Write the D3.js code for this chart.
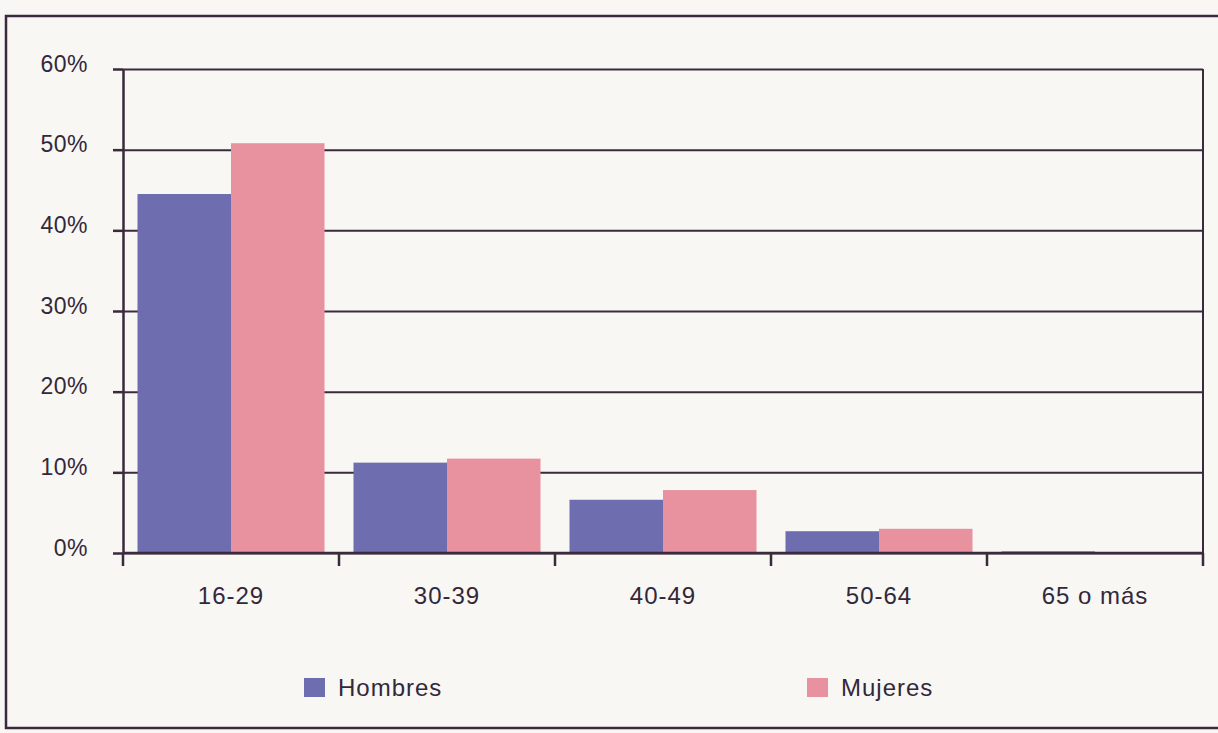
<!DOCTYPE html>
<html>
<head>
<meta charset="utf-8">
<script src="https://cdn.jsdelivr.net/npm/d3@7"></script>
<style>
  body { margin: 0; background: #f8f7f4; }
  text { font-family: "Liberation Sans", Arial, sans-serif; fill: #33283a; }
</style>
</head>
<body>
<script>
// data (percent)
var categories = ["16-29", "30-39", "40-49", "50-64", "65 o más"];
var hombres = [44.5, 11.2, 6.6, 2.7, 0.2];
var mujeres = [50.8, 11.7, 7.8, 3.0, 0.1];
var series = ["Hombres", "Mujeres"];
var yTicks = [0, 10, 20, 30, 40, 50, 60];

var colors = {Hombres: "#6d6db0", Mujeres: "#e8919f"};
var ink = "#3b2a3c";

// set the dimensions and margins of the graph
var margin = {top: 69, right: 15, bottom: 180, left: 123},
    width = 1203 - margin.left,
    height = 553 - margin.top;

var svg = d3.select("body").append("svg")
    .attr("width", 1218)
    .attr("height", 733);

// outer frame
svg.append("rect")
    .attr("x", 6).attr("y", 16)
    .attr("width", 1230).attr("height", 712)
    .attr("fill", "none")
    .attr("stroke", ink)
    .attr("stroke-width", 2.5);

var g = svg.append("g")
    .attr("transform", "translate(" + margin.left + "," + margin.top + ")");

// set the ranges
var x0 = d3.scaleBand()
    .domain(categories)
    .range([0, width]);
var x1 = d3.scaleBand()
    .domain(series)
    .range([0, x0.bandwidth()])
    .paddingOuter(0.155);
var y = d3.scaleLinear()
    .domain([0, 60])
    .range([height, 0]);

// gridlines
g.append("g")
    .call(d3.axisLeft(y).tickValues(yTicks).tickSize(-width).tickFormat(""))
    .call(function(s) { s.select(".domain").remove(); })
    .selectAll("line")
    .attr("stroke", ink)
    .attr("stroke-width", 2);

// plot right border
g.append("line")
    .attr("x1", width).attr("x2", width)
    .attr("y1", 0).attr("y2", height)
    .attr("stroke", ink)
    .attr("stroke-width", 2);

// bars
var rows = categories.map(function(c, i) {
  return {cat: c, values: [{s: "Hombres", v: hombres[i]}, {s: "Mujeres", v: mujeres[i]}]};
});

g.selectAll(".grp")
    .data(rows)
  .enter().append("g")
    .attr("class", "grp")
    .attr("transform", function(d) { return "translate(" + x0(d.cat) + ",0)"; })
  .selectAll("rect")
    .data(function(d) { return d.values; })
  .enter().append("rect")
    .attr("x", function(d) { return x1(d.s); })
    .attr("width", x1.bandwidth())
    .attr("y", function(d) { return y(d.v); })
    .attr("height", function(d) { return height - y(d.v); })
    .attr("fill", function(d) { return colors[d.s]; });

// y axis
var yAxis = g.append("g")
    .call(d3.axisLeft(y).tickValues(yTicks).tickSize(10).tickSizeOuter(0)
      .tickFormat(function(d) { return d + "%"; }));
yAxis.select(".domain").attr("stroke", ink).attr("stroke-width", 2.5);
yAxis.selectAll("line").attr("stroke", ink).attr("stroke-width", 2.5);
yAxis.selectAll("text")
    .attr("x", -35)
    .attr("dy", "0.1em")
    .attr("font-size", null)
    .style("font-size", "23px")
    .style("letter-spacing", "0.5px")
    .style("fill", "#33283a");

// x axis baseline and category ticks
g.append("line")
    .attr("x1", 0).attr("x2", width)
    .attr("y1", height).attr("y2", height)
    .attr("stroke", ink)
    .attr("stroke-width", 2.5);

var edges = categories.map(function(c) { return x0(c); }).concat([width]);
g.selectAll(".xtick")
    .data(edges)
  .enter().append("line")
    .attr("class", "xtick")
    .attr("x1", function(d) { return d; })
    .attr("x2", function(d) { return d; })
    .attr("y1", height)
    .attr("y2", height + 13)
    .attr("stroke", ink)
    .attr("stroke-width", 2.5);

g.selectAll(".xlabel")
    .data(categories)
  .enter().append("text")
    .attr("class", "xlabel")
    .attr("x", function(d) { return x0(d) + x0.bandwidth() / 2; })
    .attr("y", height + 51)
    .attr("text-anchor", "middle")
    .style("font-size", "24px")
    .style("letter-spacing", "1px")
    .text(function(d) { return d; });

// legend
var legendX = {Hombres: 304, Mujeres: 807};
var legend = svg.selectAll(".legend")
    .data(series)
  .enter().append("g")
    .attr("class", "legend")
    .attr("transform", function(d) { return "translate(" + legendX[d] + ",678)"; });
legend.append("rect")
    .attr("width", 21).attr("height", 19)
    .attr("fill", function(d) { return colors[d]; });
legend.append("text")
    .attr("x", 34)
    .attr("y", 18)
    .style("font-size", "24px")
    .style("letter-spacing", "1px")
    .text(function(d) { return d; });
</script>
</body>
</html>
